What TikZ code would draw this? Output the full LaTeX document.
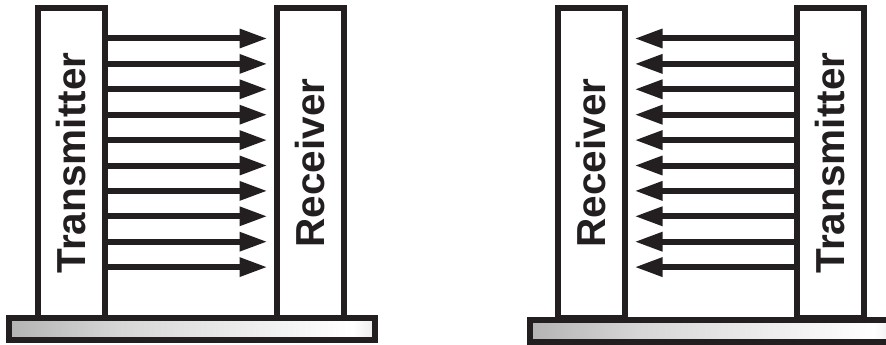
\documentclass[tikz,border=0pt]{standalone}
\usepackage{fontspec}
\newfontfamily\labelfont{Liberation Sans}
\usetikzlibrary{arrows.meta}
\definecolor{ink}{RGB}{35,31,32}
\pgfdeclarehorizontalshading{plate}{100bp}{color(0bp)=(black!52); color(40bp)=(black!16); color(72bp)=(white); color(100bp)=(black!72)}

\begin{document}
\begin{tikzpicture}[x=1pt,y=-1pt,
  unit/.style={draw=ink,line width=6pt,fill=white,rotate=90,inner sep=0pt,minimum width=310pt,minimum height=67pt,
    font=\labelfont\bfseries\fontsize{40.5}{40.5}\selectfont,text=ink},
  ray/.style={draw=ink,line width=6pt,-{Triangle[length=28pt,width=18pt]}},
  base/.style={draw=ink,line width=6pt,shading=plate}]
\useasboundingbox (0,0) rectangle (886,345);
% left set: sender on the left
\node[unit] (tx1) at (71.5,163) {Transmitter};
\node[unit] (rx1) at (310,163) {Receiver};
% right set: sender on the right
\node[unit] (rx2) at (591,163) {Receiver};
\node[unit] (tx2) at (830,163) {Transmitter};
\foreach \i in {0,...,9}{
  \pgfmathsetmacro{\y}{38.5+25.4*\i}
  \draw[ray,shorten >=6pt] (tx1.south |- 0,\y) -- (rx1.north |- 0,\y);
  \draw[ray,shorten >=7pt] (tx2.north |- 0,\y) -- (rx2.south |- 0,\y);
}
\shadedraw[base] (9,318) rectangle (375,340);
\shadedraw[base] (530,320) rectangle (896,342);
\end{tikzpicture}
\end{document}
